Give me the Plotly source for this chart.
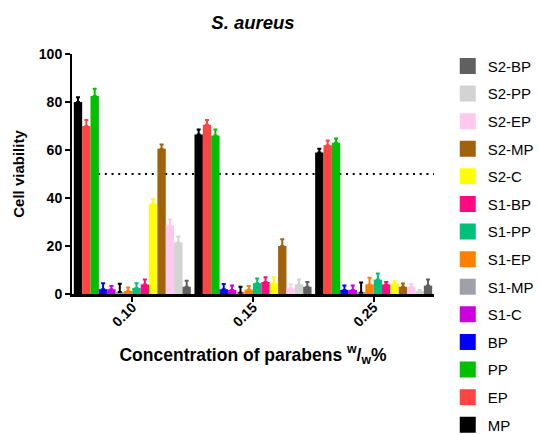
import plotly.graph_objects as go

categories = ["0.10", "0.15", "0.25"]
series_names = ["MP", "EP", "PP", "BP", "S1-C", "S1-MP", "S1-EP", "S1-PP", "S1-BP",
                "S2-C", "S2-MP", "S2-EP", "S2-PP", "S2-BP"]
colors = ["#000000", "#FF4444", "#00C000", "#0000FF", "#CC00DD", "#A0A0A8", "#FF8000",
          "#00C07A", "#FF0A80", "#FFFF00", "#A0620C", "#FFC8EE", "#D3D3D3", "#606060"]
err_colors = ["#000000", "#FF4444", "#00C000", "#0000FF", "#CC00DD", "#000000", "#FF8000",
              "#00C07A", "#FF0A80", "#FFFF00", "#A0620C", "#FFC8EE", "#D3D3D3", "#606060"]

values = {
    "MP":    [80.0, 66.5, 59.0],
    "EP":    [70.0, 70.5, 62.0],
    "PP":    [82.5, 66.0, 63.0],
    "BP":    [2.0, 2.0, 1.7],
    "S1-C":  [2.0, 1.7, 1.7],
    "S1-MP": [0.8, 0.5, 0.5],
    "S1-EP": [1.3, 1.8, 4.0],
    "S1-PP": [2.5, 4.5, 6.0],
    "S1-BP": [4.0, 5.0, 4.0],
    "S2-C":  [37.5, 4.5, 4.3],
    "S2-MP": [60.5, 20.0, 3.0],
    "S2-EP": [28.5, 2.3, 3.0],
    "S2-PP": [21.5, 4.0, 1.2],
    "S2-BP": [3.0, 3.0, 3.5],
}
errors = {
    "MP":    [2.0, 2.0, 1.5],
    "EP":    [2.5, 2.0, 2.0],
    "PP":    [3.0, 2.5, 1.8],
    "BP":    [2.5, 2.2, 1.8],
    "S1-C":  [1.3, 1.8, 1.8],
    "S1-MP": [3.5, 2.5, 4.3],
    "S1-EP": [1.4, 1.5, 2.8],
    "S1-PP": [2.0, 2.0, 2.5],
    "S1-BP": [2.0, 2.0, 1.0],
    "S2-C":  [2.0, 2.5, 1.0],
    "S2-MP": [1.8, 2.8, 1.4],
    "S2-EP": [2.5, 1.8, 1.2],
    "S2-PP": [2.5, 2.0, 0.5],
    "S2-BP": [2.5, 2.0, 2.5],
}
threshold = 50
y_ticks = [0, 20, 40, 60, 80, 100]

FONT = "Arial, Liberation Sans, sans-serif"

fig = go.Figure()
n = len(series_names)
for i, (name, col, ecol) in enumerate(zip(series_names, colors, err_colors)):
    fig.add_trace(go.Bar(
        x=categories, y=values[name], name=name, legendgroup=name, showlegend=False,
        marker=dict(color=col, line=dict(width=0)),
        error_y=dict(type="data", symmetric=False, array=errors[name],
                     arrayminus=[0] * len(categories), color=ecol,
                     thickness=2, width=2),
    ))
    # legend entry (square swatch)
    fig.add_trace(go.Scatter(
        x=[None], y=[None], mode="markers", name=name, legendgroup=name,
        legendrank=100 + (n - i), showlegend=True,
        marker=dict(symbol="square", size=16, color=col),
    ))

fig.add_shape(type="line", xref="x", yref="y", x0=-0.45, x1=2.52,
              y0=threshold, y1=threshold, layer="below",
              line=dict(color="black", width=2, dash="2px,4.7px"))

fig.update_layout(
    width=539, height=434,
    margin=dict(l=72, r=105, t=54, b=140, autoexpand=False),
    paper_bgcolor="white", plot_bgcolor="white",
    barmode="group", bargap=0.03, bargroupgap=0,
    font=dict(family=FONT, color="black"),
    title=dict(text="<b><i>S. aureus</i></b>", x=0.5, xref="paper",
               y=1 - 23 / 434, yref="container", yanchor="middle",
               xanchor="center", font=dict(size=18.5, family=FONT)),
    showlegend=True,
    legend=dict(x=1.038, xanchor="left", y=1.018, yanchor="top",
                traceorder="grouped", tracegroupgap=5.1, maxheight=600,
                font=dict(size=15, family=FONT), bgcolor="rgba(0,0,0,0)"),
    xaxis=dict(range=[-0.5, 2.5], showline=True, linecolor="black", linewidth=2.5,
               ticks="outside", ticklen=5, tickwidth=2, tickcolor="black",
               tickangle=-45, tickfont=dict(size=14, family=FONT),
               ticklabelstandoff=-8,
               tickvals=categories, ticktext=["<b>%s</b>" % c for c in categories],
               title=dict(text="<b>Concentration of parabens <sup>w</sup>/<sub>w</sub>%</b>",
                          font=dict(size=17.5, family=FONT), standoff=20),
               showgrid=False, zeroline=False),
    yaxis=dict(range=[0, 100], showline=True, linecolor="black", linewidth=2,
               ticks="outside", ticklen=5, tickwidth=2, tickcolor="black",
               tickvals=y_ticks, ticktext=["<b>%d</b>" % t for t in y_ticks],
               tickfont=dict(size=14, family=FONT),
               title=dict(text="<b>Cell viability</b>", font=dict(size=15, family=FONT),
                          standoff=11),
               showgrid=False, zeroline=False),
)

fig.write_html("out.html", config={"displayModeBar": False},
               post_script="document.body.style.margin='0';")
